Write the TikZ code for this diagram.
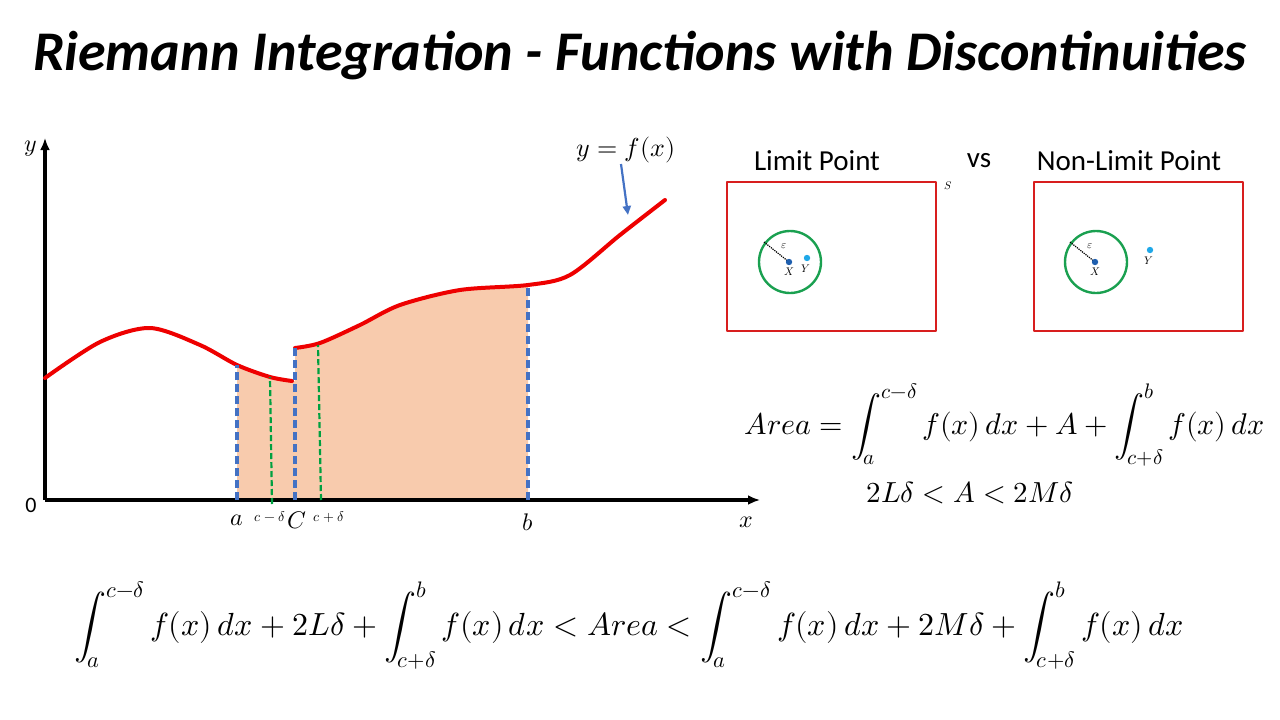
\documentclass[tikz,border=0pt]{standalone}
\usepackage{fontspec}
\usepackage{unicode-math}
\setmainfont{Carlito}
\setmathfont{Latin Modern Math}
\usetikzlibrary{arrows.meta}
\definecolor{curvered}{HTML}{EE0000}
\definecolor{boxred}{HTML}{D81E1E}
\definecolor{dashblue}{HTML}{4472C4}
\definecolor{dashgreen}{HTML}{00A040}
\definecolor{areafill}{HTML}{F8CBAD}
\definecolor{ringgreen}{HTML}{1AA050}
\definecolor{dotX}{HTML}{1F5FAF}
\definecolor{dotY}{HTML}{1FA8E8}
\tikzset{
  curve/.style={curvered, line width=4pt, line cap=round},
  bluedash/.style={dashblue, line width=3.6pt, dash pattern=on 8pt off 4pt},
  greendash/.style={dashgreen, line width=2.2pt, dash pattern=on 6pt off 3pt},
  setbox/.style={boxred, line width=1.8pt},
  ring/.style={ringgreen, line width=2.4pt},
  lbl/.style={inner sep=0pt, font=\fontsize{24}{26}\selectfont},
  small/.style={inner sep=0pt, font=\fontsize{14}{16}\selectfont},
  tiny/.style={inner sep=0pt, font=\fontsize{11}{12}\selectfont},
  eqn/.style={inner sep=0pt, font=\fontsize{30}{33}\selectfont}
}
\begin{document}
\begin{tikzpicture}[x=1pt, y=-1pt, line join=round]
	\useasboundingbox (0,0) rectangle (1280,720);
	\def \xmin{45} \def \xmax{760}
	\def \ymin{500} \def \ymax{138}
	\def \left{(45,378) (100,342) (150,328) (200,345) (237,365) (270,377) (292,381)}
	\def \right{(295,348) (320,343) (360,325) (400,305) (460,290) (528,285) (570,275) (620,235) (665,200)}
	% title
	\node[inner sep=0pt, font=\fontsize{56}{60}\selectfont\bfseries\itshape] (title) at (640,56) {Riemann Integration - Functions with Discontinuities};
	% shaded area
	\begin{scope}
		\clip (237,0) rectangle (528,\ymin);
		\fill[areafill] plot[smooth] coordinates {\left} -- (292,\ymin) -- (45,\ymin) -- cycle;
		\fill[areafill] plot[smooth] coordinates {\right} -- (665,\ymin) -- (295,\ymin) -- cycle;
		\fill[areafill] (291,381) rectangle (296,\ymin);
	\end{scope}
	% axes
	\draw[line width=3.4pt, -{Latex[length=12pt,width=10pt]}] (\xmin,\ymin)--(\xmax,\ymin) coordinate (xend);
	\draw[line width=3.4pt, -{Latex[length=12pt,width=10pt]}] (\xmin,\ymin)--(\xmin,\ymax) coordinate (yend);
	\node[lbl] (ylab) at (31,149) {$y$};
	\node[lbl] (xlab) at (746,522) {$x$};
	\node[inner sep=0pt, font=\fontsize{22}{24}\selectfont] (zero) at (31,505) {0};
	% graph
	\draw[curve] plot[smooth] coordinates {\left};
	\draw[curve] plot[smooth] coordinates {\right};
	% dashed ordinates
	\foreach \x/\y/\name in {237/365/a,295/348/c,528/285/b}
	\draw[bluedash] (\x,\ymin) coordinate (\name0) -- (\x,\y) coordinate (\name1);
	\draw[greendash] (272,504) -- (270,377);
	\draw[greendash] (321,500) -- (318,345);
	\node[lbl] (la) at (237,520) {$a$};
	\node[small] (lcm) at (270,517) {$c-\delta$};
	\node[lbl] (lc) at (297,520) {$C$};
	\node[small] (lcp) at (329,517) {$c+\delta$};
	\node[lbl] (lb) at (528,522) {$b$};
	\node[inner sep=0pt, font=\fontsize{26}{28}\selectfont] (fx) at (626,150) {$y=f(x)$};
	\coordinate (fxtip) at (628,215);
	\draw[dashblue, line width=2.2pt, -{Triangle[length=9pt,width=8pt]}] (621,164) -- (fxtip);
	% limit point pictures
	\node[inner sep=0pt, font=\fontsize{29}{32}\selectfont] (lim) at (817,161) {Limit Point};
	\node[inner sep=0pt, font=\fontsize{29}{32}\selectfont] (vs) at (979,161) {vs};
	\node[inner sep=0pt, font=\fontsize{29}{32}\selectfont] (nonlim) at (1129,161) {Non-Limit Point};
	\draw[setbox] (727,182) rectangle (936,331);
	\draw[setbox] (1034,182) rectangle (1243,331);
	\node[tiny] (S) at (948,186) {$S$};
	\foreach \cx/\yx/\yy/\k in {790/807/258/1,1096/1150/250/2}{
		\draw[ring] (\cx,262) circle (31);
		\draw[densely dotted, line width=1.2pt] (\cx-26,242) -- (\cx-1,262);
		\fill[dotX] (\cx-1,262) circle (3.2) coordinate (X\k);
		\fill[dotY] (\yx,\yy) circle (3.2) coordinate (Y\k);
		\node[tiny] at (\cx-6,246) {$\varepsilon$};
		\node[tiny] at (\cx-1,272) {$X$};
		\node[tiny] at (\yx-1,\yy+11) {$Y$};
	}
	% equations
	\node[eqn] (area) at (1005,425) {$\displaystyle Area=\int_a^{c-\delta} f(x)\,dx+A+\int_{c+\delta}^{b} f(x)\,dx$};
	\node[inner sep=0pt, font=\fontsize{29}{32}\selectfont] (bound) at (970,493) {$2L\delta<A<2M\delta$};
	\node[eqn, font=\fontsize{32}{35}\selectfont] (ineq) at (629,625) {$\displaystyle \int_a^{c-\delta} f(x)\,dx+2L\delta+\int_{c+\delta}^{b} f(x)\,dx<Area<\int_a^{c-\delta} f(x)\,dx+2M\delta+\int_{c+\delta}^{b} f(x)\,dx$};
\end{tikzpicture}
\end{document}
